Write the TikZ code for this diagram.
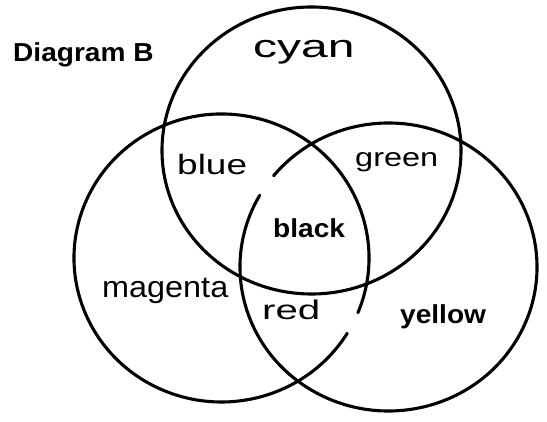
\documentclass[tikz,border=0pt]{standalone}
\usepackage{fontspec}
\setmainfont{Liberation Sans}
\newcommand{\printtxt}[1]{\scalebox{1.08}[1]{\fontsize{26}{30}\selectfont\bfseries #1}}
\newcommand{\handtxt}[3]{\scalebox{#2}[1]{\fontsize{#1}{#1}\selectfont #3}}
\begin{document}
\begin{tikzpicture}[x=1pt,y=1pt,
  ring/.style={draw=black,line width=3.1pt,line cap=round},
  lbl/.style={inner sep=0pt,anchor=base west,text=black}]
\useasboundingbox[fill=white] (0,0) rectangle (547,422);
% top circle (cyan)
\draw[ring] (311.5,271.5) ellipse[x radius=149.5,y radius=143.5];
% left circle (magenta), with a small gap near "red"
\draw[ring] (221.5,164) ++(-22.35:147.5 and 144)
  arc[start angle=-22.35,end angle=328.5,x radius=147.5,y radius=144];
% right circle (yellow), with a small gap near "blue"
\draw[ring] (388.5,155) ++(150.1:148.5 and 144)
  arc[start angle=150.1,end angle=500.7,x radius=148.5,y radius=144];
% labels
\node[lbl] (title) at (13,360) {\printtxt{Diagram B}};
\node[lbl] (black) at (273,184) {\printtxt{black}};
\node[lbl] (yellow) at (400,98) {\printtxt{yellow}};
\node[lbl] (cyan) at (253,364) {\handtxt{32}{1.5}{cyan}};
\node[lbl] (blue) at (177,247) {\handtxt{28}{1.32}{blue}};
\node[lbl] (green) at (355,255) {\handtxt{26}{1.25}{green}};
\node[lbl] (magenta) at (102,124) {\handtxt{30}{1.08}{magenta}};
\node[lbl] (red) at (262,102) {\handtxt{27}{1.49}{red}};
\end{tikzpicture}
\end{document}
